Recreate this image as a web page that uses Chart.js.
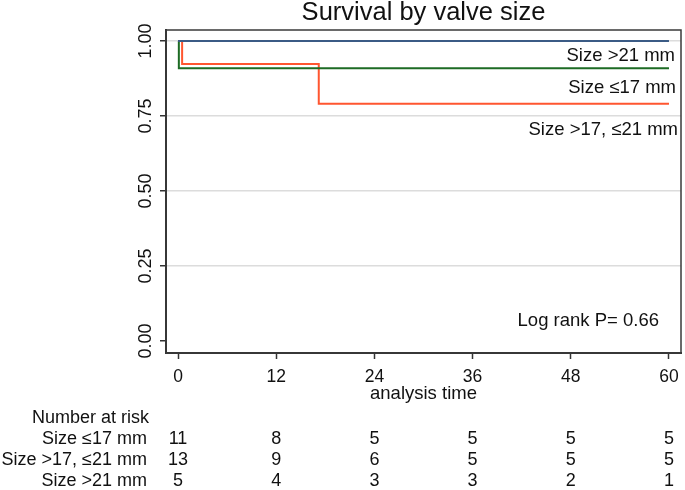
<!DOCTYPE html>
<html lang="en">
<head>
    <meta charset="UTF-8">
    <title>Survival by valve size</title>
    <script src="https://cdn.jsdelivr.net/npm/chart.js"></script>
    <style>
        body { margin: 0; background: #fff; }
        canvas { display: block; }
    </style>
</head>
<body>
    <canvas id="kmChart" width="685" height="490"></canvas>
    <script>
    // Kaplan-Meier steps (time in months, survival fraction)
    const timeTicks = [0, 12, 24, 36, 48, 60];
    const survTicks = [0, 0.25, 0.5, 0.75, 1];
    const groupLabels = ['Size \u226417 mm', 'Size >17, \u226421 mm', 'Size >21 mm'];

    const smallTime = [0, 0.1, 60];
    const smallSurv = [1, 0.909, 0.909];
    const midTime = [0, 0.5, 17.2, 60];
    const midSurv = [1, 0.923, 0.791, 0.791];
    const largeTime = [0, 60];
    const largeSurv = [1, 1];

    // Number at risk at each time tick
    const riskSmall = [11, 8, 5, 5, 5, 5];
    const riskMid = [13, 9, 6, 5, 5, 5];
    const riskLarge = [5, 4, 3, 3, 2, 1];

    const FONT = '"Liberation Sans", Arial, sans-serif';
    const toPoints = (t, s) => t.map((v, i) => ({ x: v, y: s[i] }));

    // Text that Stata puts around the plot: title, rotated y labels, risk table etc.
    const textPlugin = {
        id: 'kmText',
        afterDraw(chart) {
            const { ctx, chartArea: a, scales: { x, y } } = chart;
            ctx.save();

            // frame around the plot region
            ctx.strokeStyle = '#3a3a3a';
            ctx.lineWidth = 1.5;
            ctx.strokeRect(a.left, a.top, a.right - a.left, a.bottom - a.top);

            ctx.fillStyle = '#111';
            ctx.textBaseline = 'middle';

            ctx.font = '25.5px ' + FONT;
            ctx.textAlign = 'center';
            ctx.fillText('Survival by valve size', (a.left + a.right) / 2, 13);

            ctx.font = '18px ' + FONT;
            survTicks.forEach(v => {
                ctx.save();
                ctx.translate(146, y.getPixelForValue(v));
                ctx.rotate(-Math.PI / 2);
                ctx.fillText(v.toFixed(2), 0, 0);
                ctx.restore();
            });

            ctx.font = '17.5px ' + FONT;
            timeTicks.forEach(v => ctx.fillText(String(v), x.getPixelForValue(v), 377));

            ctx.font = '18.5px ' + FONT;
            ctx.fillText('analysis time', (a.left + a.right) / 2, 394);

            // curve labels
            ctx.textAlign = 'right';
            ctx.fillText(groupLabels[2], 675, 56);
            ctx.fillText(groupLabels[0], 676, 88);
            ctx.fillText(groupLabels[1], 678, 130);
            ctx.fillText('Log rank P= 0.66', 659, 321);

            // number at risk table
            ctx.font = '18px ' + FONT;
            ctx.textAlign = 'left';
            ctx.fillText('Number at risk', 32, 418);
            const rows = [riskSmall, riskMid, riskLarge];
            const rowY = [439, 460, 481];
            rows.forEach((row, r) => {
                ctx.textAlign = 'right';
                ctx.fillText(groupLabels[r], 147, rowY[r]);
                ctx.textAlign = 'center';
                row.forEach((n, i) => ctx.fillText(String(n), x.getPixelForValue(timeTicks[i]), rowY[r]));
            });

            ctx.restore();
        }
    };

    const ctx = document.getElementById('kmChart').getContext('2d');
    const kmChart = new Chart(ctx, {
        type: 'line',
        data: {
            datasets: [
                {
                    label: groupLabels[2],
                    data: toPoints(largeTime, largeSurv),
                    borderColor: '#3b5b85',
                    borderWidth: 2
                },
                {
                    label: groupLabels[0],
                    data: toPoints(smallTime, smallSurv),
                    borderColor: '#1d6b24',
                    borderWidth: 2
                },
                {
                    label: groupLabels[1],
                    data: toPoints(midTime, midSurv),
                    borderColor: '#ff5630',
                    borderWidth: 2
                }
            ]
        },
        options: {
            responsive: false,
            animation: false,
            devicePixelRatio: 1,
            layout: { padding: { top: 30, right: 4, left: 0, bottom: 0 } },
            elements: {
                point: { radius: 0, hoverRadius: 0 },
                line: { stepped: true, fill: false, tension: 0 }
            },
            scales: {
                x: {
                    type: 'linear',
                    min: -1.47,
                    max: 61.47,
                    afterBuildTicks: s => { s.ticks = timeTicks.map(v => ({ value: v })); },
                    afterFit: s => { s.height = 137; },
                    ticks: { display: false },
                    grid: { drawOnChartArea: false, drawTicks: true, tickLength: 6, tickColor: '#333', tickWidth: 1.5 },
                    border: { display: true, color: '#333', width: 2 }
                },
                y: {
                    type: 'linear',
                    min: -0.04,
                    max: 1.0367,
                    afterBuildTicks: s => { s.ticks = survTicks.map(v => ({ value: v })); },
                    afterFit: s => { s.width = 166; },
                    ticks: { display: false },
                    grid: {
                        color: c => (c.tick && c.tick.value === 0 ? 'rgba(0,0,0,0)' : '#dcdcdc'),
                        lineWidth: 1.5,
                        drawTicks: true,
                        tickLength: 6,
                        tickColor: '#333',
                        tickWidth: 1.5
                    },
                    border: { display: true, color: '#333', width: 2 }
                }
            },
            plugins: {
                legend: { display: false },
                tooltip: { enabled: false }
            }
        },
        plugins: [textPlugin]
    });
    </script>
</body>
</html>
